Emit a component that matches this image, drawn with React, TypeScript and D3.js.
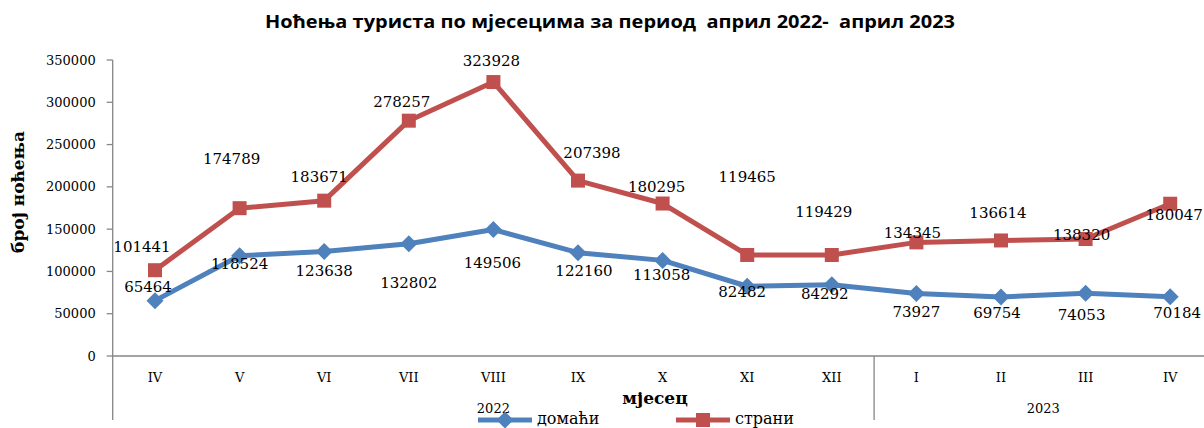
import React from "react";
import * as d3 from "d3";

const months = ["IV", "V", "VI", "VII", "VIII", "IX", "X", "XI", "XII", "I", "II", "III", "IV"];
const years = [
  { label: "2022", from: 0, to: 8 },
  { label: "2023", from: 9, to: 12 },
];
const domestic = [65464, 118524, 123638, 132802, 149506, 122160, 113058, 82482, 84292, 73927, 69754, 74053, 70184];
const foreign = [101441, 174789, 183671, 278257, 323928, 207398, 180295, 119465, 119429, 134345, 136614, 138320, 180047];
const yTicks = [0, 50000, 100000, 150000, 200000, 250000, 300000, 350000];
const titleText = "Ноћења туриста по мјесецима за период  април 2022-  април 2023";
const seriesNames = ["домаћи", "страни"];

// label placement offsets (layout, px)
const foreignOff: [number, number][] = [
  [-13, -24], [-8, -50], [-5, -25], [-7, -20], [-2, -22], [14, -29], [-6, -18],
  [0, -79], [-8, -44], [-4, -10], [-3, -28], [-4, -5], [4, 10],
];
const domesticOff: [number, number][] = [
  [-7, -15], [0, 7], [0, 19], [0, 38], [-1, 32], [6, 17], [-1, 14],
  [-5, 5], [-7, 8], [0, 18], [-4, 15], [-4, 21], [7, 15],
];

const BLUE = "#4F81BD";
const RED = "#C0504D";
const AXIS = "#868686";
const SERIF = "'DejaVu Serif', serif";

export default function App() {
  const W = 1204, H = 428;
  const left = 112.7, step = 84.6;
  const x = d3.scaleBand<number>().domain(d3.range(months.length)).range([left, left + step * months.length]);
  const y = d3.scaleLinear().domain([0, 350000]).range([356, 60]);
  const cx = (i: number) => (x(i) as number) + x.bandwidth() / 2;
  const line = d3.line<number>().x((_, i) => cx(i)).y((d) => y(d));
  const bottom = 420;

  const diamond = (px: number, py: number, r: number) =>
    `M${px},${py - r}L${px + r},${py}L${px},${py + r}L${px - r},${py}Z`;

  return (
    <svg width={W} height={H} style={{ position: "absolute", left: 0, top: 0, background: "#fff" }}>
      <text x={610} y={28} textAnchor="middle" fontFamily="'Open Sans', sans-serif" fontWeight="bold" fontSize={18}
        fill="#000" textLength={690} lengthAdjust="spacingAndGlyphs" style={{ whiteSpace: "pre" }}>
        {titleText}
      </text>

      {/* y axis */}
      <line x1={left} x2={left} y1={60} y2={bottom} stroke={AXIS} strokeWidth={1.3} />
      {yTicks.map((t) => (
        <g key={t}>
          <line x1={left - 6} x2={left} y1={y(t)} y2={y(t)} stroke={AXIS} strokeWidth={1.3} />
          <text x={left - 17} y={y(t) + 4.5} textAnchor="end" fontFamily={SERIF} fontSize={13} fill="#000">
            {t}
          </text>
        </g>
      ))}
      <text transform={`translate(24,192) rotate(-90)`} textAnchor="middle" fontFamily={SERIF} fontWeight="bold" fontSize={17} fill="#000">
        број ноћења
      </text>

      {/* x axis */}
      <line x1={left} x2={W} y1={356} y2={356} stroke={AXIS} strokeWidth={1.3} />
      <line x1={(x(9) as number)} x2={(x(9) as number)} y1={356} y2={bottom} stroke={AXIS} strokeWidth={1.3} />
      {months.map((m, i) => (
        <text key={i} x={cx(i)} y={382} textAnchor="middle" fontFamily={SERIF} fontSize={13} fill="#000">
          {m}
        </text>
      ))}
      {years.map((yr) => (
        <text key={yr.label} x={(cx(yr.from) + cx(yr.to)) / 2} y={413} textAnchor="middle" fontFamily={SERIF} fontSize={13} fill="#000">
          {yr.label}
        </text>
      ))}
      <text x={655} y={404} textAnchor="middle" fontFamily={SERIF} fontWeight="bold" fontSize={17} fill="#000">
        мјесец
      </text>

      {/* lines */}
      <path d={line(domestic) || ""} fill="none" stroke={BLUE} strokeWidth={5} strokeLinejoin="round" />
      <path d={line(foreign) || ""} fill="none" stroke={RED} strokeWidth={5} strokeLinejoin="round" />
      {domestic.map((v, i) => (
        <path key={"d" + i} d={diamond(cx(i), y(v), 8.5)} fill={BLUE} />
      ))}
      {foreign.map((v, i) => (
        <rect key={"f" + i} x={cx(i) - 7} y={y(v) - 7} width={14} height={14} fill={RED} />
      ))}

      {/* labels */}
      {foreign.map((v, i) => (
        <text key={"fl" + i} x={cx(i) + foreignOff[i][0]} y={y(v) + foreignOff[i][1] + 6} textAnchor="middle" fontFamily={SERIF} fontSize={15} fill="#000">
          {v}
        </text>
      ))}
      {domestic.map((v, i) => (
        <text key={"dl" + i} x={cx(i) + domesticOff[i][0]} y={y(v) + domesticOff[i][1] + 6} textAnchor="middle" fontFamily={SERIF} fontSize={15} fill="#000">
          {v}
        </text>
      ))}

      {/* legend */}
      <line x1={478} x2={532} y1={420} y2={420} stroke={BLUE} strokeWidth={5} />
      <path d={diamond(505, 420, 8.5)} fill={BLUE} />
      <text x={537} y={424} fontFamily={SERIF} fontSize={16} fill="#000">{seriesNames[0]}</text>
      <line x1={676} x2={730} y1={420} y2={420} stroke={RED} strokeWidth={5} />
      <rect x={696} y={413} width={14} height={14} fill={RED} />
      <text x={735} y={424} fontFamily={SERIF} fontSize={16} fill="#000">{seriesNames[1]}</text>
    </svg>
  );
}
